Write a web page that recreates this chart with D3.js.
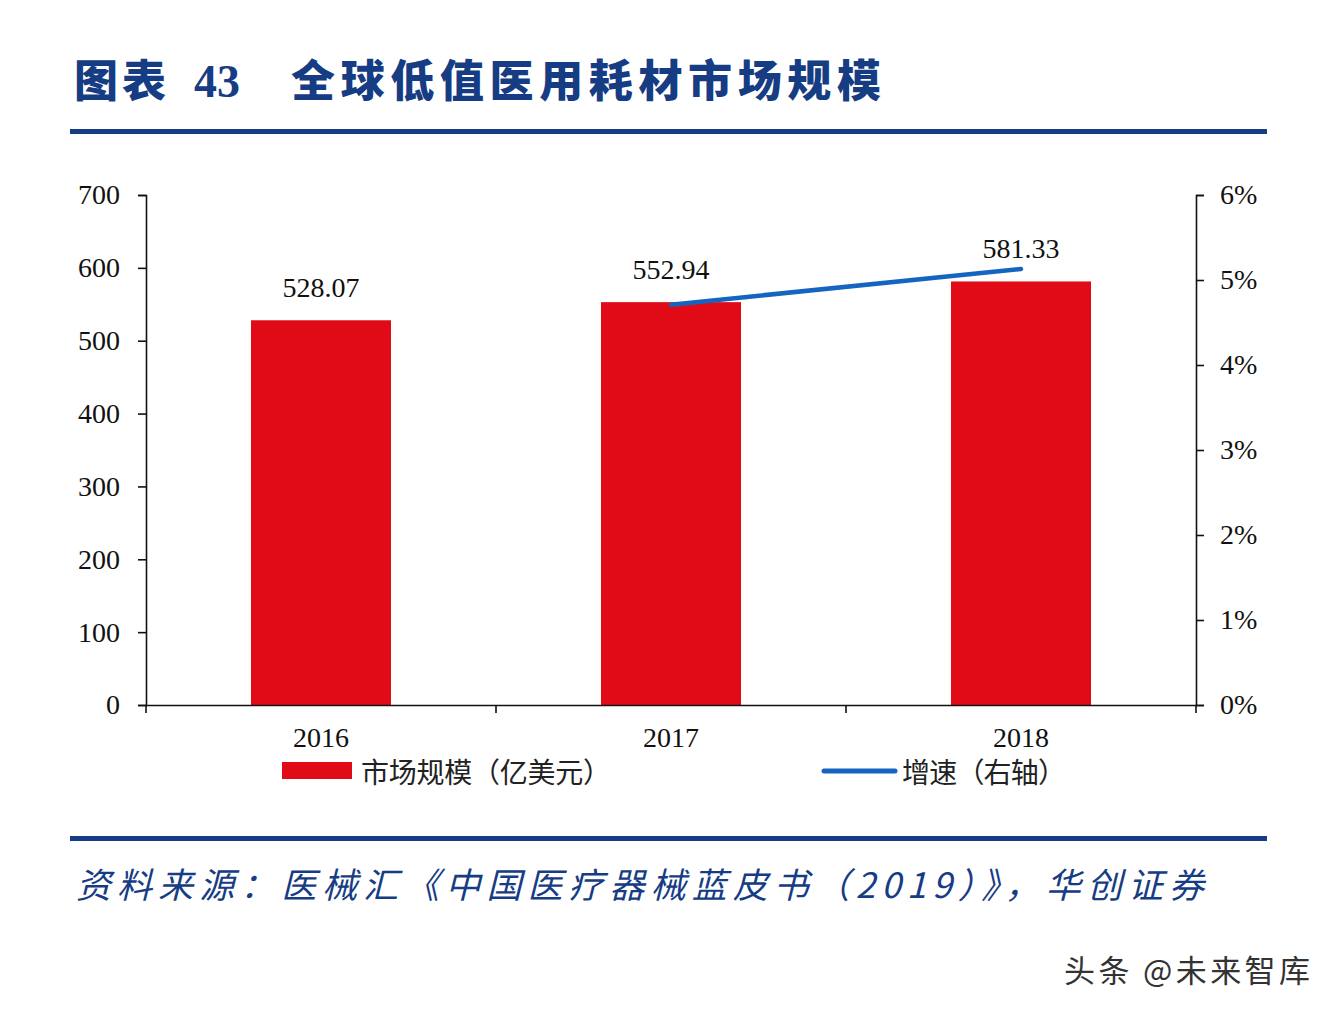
<!DOCTYPE html>
<html><head><meta charset="utf-8">
<script src="https://cdn.jsdelivr.net/npm/d3@7/dist/d3.min.js"></script>
<style>html,body{margin:0;padding:0;background:#fff;}svg{display:block;}</style>
</head><body>
<script>
const categories = ["2016", "2017", "2018"];
const marketSize = [528.07, 552.94, 581.33];
const growth = [null, 4.71, 5.13];
const leftTicks = [0, 100, 200, 300, 400, 500, 600, 700];
const rightTicks = [0, 1, 2, 3, 4, 5, 6];
const titleParts = ["图表", "43", "全球低值医用耗材市场规模"];
const legendLabels = ["市场规模（亿美元）", "增速（右轴）"];
const sourceText = "资料来源：医械汇《中国医疗器械蓝皮书（2019）》，华创证券";
const watermark = "头条 @未来智库";

const W = 1338, H = 1016;
const svg = d3.select("body").append("svg").attr("width", W).attr("height", H);
svg.append("rect").attr("width", W).attr("height", H).attr("fill", "#fff");

const navy = "#163c84";
const serif = "'Liberation Serif','Times New Roman',serif";
const cjk = "'Noto Sans CJK SC','Noto Sans',sans-serif";

// Title
const tStyle = s => s.attr("font-weight", 900).attr("font-size", 44).attr("fill", navy).attr("y", 97);
svg.append("text").call(tStyle).attr("x", 74).attr("font-family", cjk)
  .attr("textLength", 92).attr("lengthAdjust", "spacing").text(titleParts[0]);
svg.append("text").call(tStyle).attr("x", 194).attr("font-family", serif).attr("font-size", 46).text(titleParts[1]);
svg.append("text").call(tStyle).attr("x", 291).attr("font-family", cjk)
  .attr("textLength", 590).attr("lengthAdjust", "spacing").text(titleParts[2]);
svg.append("rect").attr("x", 70).attr("y", 129).attr("width", 1197).attr("height", 5).attr("fill", navy);
svg.append("rect").attr("x", 70).attr("y", 836).attr("width", 1197).attr("height", 5).attr("fill", navy);

const x0 = 146, x1 = 1196, yTop = 195, yBot = 705;
const x = d3.scaleBand().domain(categories).range([x0, x1]).paddingInner(0.6).paddingOuter(0.3);
const xb = d3.scaleBand().domain(categories).range([x0, x1]);
const yL = d3.scaleLinear().domain([0, 700]).range([yBot, yTop]);
const yR = d3.scaleLinear().domain([0, 6]).range([yBot, yTop]);

// Bars
svg.append("g").selectAll("rect").data(categories).join("rect")
  .attr("x", d => x(d)).attr("width", x.bandwidth())
  .attr("y", (d, i) => yL(marketSize[i])).attr("height", (d, i) => yBot - yL(marketSize[i]))
  .attr("fill", "#e10b17");

// Value labels
svg.append("g").selectAll("text").data(categories).join("text")
  .attr("x", d => xb(d) + xb.bandwidth() / 2)
  .attr("y", (d, i) => yL(marketSize[i]) - 23)
  .attr("text-anchor", "middle").attr("font-family", serif).attr("font-size", 28).attr("fill", "#111")
  .text((d, i) => marketSize[i].toFixed(2));

// Axes
const axL = svg.append("g").attr("transform", `translate(${x0},0)`)
  .call(d3.axisLeft(yL).tickValues(leftTicks).tickSize(8).tickPadding(18).tickFormat(d3.format("d")));
const axR = svg.append("g").attr("transform", `translate(${x1},0)`)
  .call(d3.axisRight(yR).tickValues(rightTicks).tickSize(8).tickPadding(16).tickFormat(d => d + "%"));
const axB = svg.append("g").attr("transform", `translate(0,${yBot})`)
  .call(d3.axisBottom(xb).tickSize(0).tickPadding(22));
[axL, axR, axB].forEach(g => {
  g.selectAll("text").attr("font-family", serif).attr("font-size", 28).attr("fill", "#111");
  g.select(".domain").attr("stroke", "#111").attr("stroke-width", 1.6);
  g.selectAll(".tick line").attr("stroke", "#111").attr("stroke-width", 1.6);
});
axB.selectAll(".tick text").attr("dy", "0.71em");
// category boundary ticks on x-axis
const bounds = categories.map(d => xb(d)).concat([x1]);
svg.append("g").selectAll("line").data(bounds).join("line")
  .attr("x1", d => d).attr("x2", d => d).attr("y1", yBot).attr("y2", yBot + 8)
  .attr("stroke", "#111").attr("stroke-width", 1.6);

// Growth line
const pts = categories.map((d, i) => [xb(d) + xb.bandwidth() / 2, growth[i]]).filter(p => p[1] != null);
svg.append("path").datum(pts)
  .attr("d", d3.line().x(p => p[0]).y(p => yR(p[1])))
  .attr("fill", "none").attr("stroke", "#1565c0").attr("stroke-width", 4.5).attr("stroke-linecap", "round");

// Legend
svg.append("rect").attr("x", 282).attr("y", 762).attr("width", 70).attr("height", 17).attr("fill", "#e10b17");
svg.append("text").attr("x", 361).attr("y", 783).attr("font-family", cjk).attr("font-size", 28).attr("fill", "#222")
  .attr("textLength", 250).attr("lengthAdjust", "spacing").text(legendLabels[0]);
svg.append("line").attr("x1", 824).attr("x2", 895).attr("y1", 771).attr("y2", 771)
  .attr("stroke", "#1565c0").attr("stroke-width", 5).attr("stroke-linecap", "round");
svg.append("text").attr("x", 902).attr("y", 783).attr("font-family", cjk).attr("font-size", 28).attr("fill", "#222")
  .attr("textLength", 164).attr("lengthAdjust", "spacing").text(legendLabels[1]);

// Source
svg.append("text").attr("x", 76).attr("y", 898)
  .attr("font-family", cjk).attr("font-style", "italic").attr("font-size", 35).attr("fill", navy)
  .attr("textLength", 1128).attr("lengthAdjust", "spacing")
  .text(sourceText);

// Watermark
svg.append("text").attr("x", 1064).attr("y", 982)
  .attr("font-family", cjk).attr("font-size", 31).attr("fill", "#333")
  .attr("stroke", "#fff").attr("stroke-width", 3).attr("paint-order", "stroke")
  .attr("textLength", 246).attr("lengthAdjust", "spacing")
  .text(watermark);
</script>
</body></html>
